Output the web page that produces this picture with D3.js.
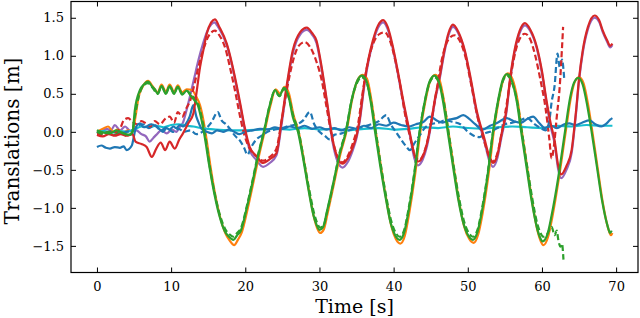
<!DOCTYPE html>
<html>
<head>
<meta charset="utf-8">
<script src="https://cdn.jsdelivr.net/npm/d3@7"></script>
<style>
  html, body { margin: 0; padding: 0; background: #fff; }
  #diagram { width: 640px; height: 318px; }
  text { font-family: "DejaVu Serif", serif; }
</style>
</head>
<body>
<div id="diagram"></div>
<script>
// - - - - - - - - - -
// data: [time (s), translation (m)]
const gtX = [[0,-0.02],[0.6,0.0],[1.3,0.04],[1.9,0.02],[2.4,0.09],[3.1,0.02],[3.8,0.07],[4.5,0.01],[5.3,0.02],[6,-0.03],[6.6,-0.06],[7.1,-0.13],[7.6,-0.08],[8,-0.04],[8.7,0.02],[9.4,-0.02],[10.1,0.03],[10.7,0.0],[11.2,0.07],[11.6,0.12],[11.9,0.22],[12.5,0.45],[13.1,0.7],[13.7,0.95],[14.3,1.16],[14.9,1.33],[15.4,1.41],[15.8,1.44],[16.4,1.37],[17.5,1.14],[18.2,0.88],[18.8,0.6],[19.4,0.3],[19.9,0.04],[20.6,-0.24],[21.5,-0.37],[22.4,-0.46],[23.3,-0.41],[24.2,-0.31],[24.9,0.1],[25.6,0.58],[26.4,1.03],[27.4,1.28],[28.3,1.34],[29,1.28],[29.6,1.17],[30.3,0.82],[31,0.38],[31.8,-0.15],[32.4,-0.38],[33.1,-0.47],[33.8,-0.4],[34.5,-0.24],[35,-0.08],[35.4,0.12],[36.1,0.64],[36.7,0.97],[37.2,1.17],[37.9,1.37],[38.6,1.44],[39.2,1.35],[39.9,1.09],[40.6,0.75],[41.3,0.38],[42.2,-0.05],[42.8,-0.35],[43.3,-0.44],[43.9,-0.37],[44.5,-0.19],[45.1,0.12],[45.6,0.42],[46.2,0.69],[46.8,1.02],[47.4,1.27],[48,1.38],[48.7,1.3],[49.6,1.05],[50.4,0.67],[51.2,0.25],[52.3,-0.15],[52.9,-0.38],[53.4,-0.46],[54,-0.34],[54.5,-0.09],[55.2,0.25],[55.7,0.67],[56.3,1.04],[57,1.3],[57.7,1.4],[58.4,1.33],[59.3,1.1],[60,0.77],[60.6,0.39],[61.2,0.06],[61.7,-0.15],[62.2,-0.5],[62.6,-0.61],[63.3,-0.5],[64,-0.28],[64.6,0.25],[65,0.67],[65.5,1.04],[66.2,1.35],[67.1,1.5],[67.7,1.45],[68.2,1.31],[68.8,1.18],[69.2,1.11],[69.5,1.14]];

const estX = [[0,-0.04],[0.8,-0.06],[1.6,-0.03],[2.4,-0.05],[3.2,-0.03],[4,-0.05],[4.8,-0.03],[5.2,-0.13],[6,-0.16],[6.7,-0.2],[7.4,-0.33],[8,-0.22],[8.6,-0.14],[9.2,-0.24],[9.8,-0.13],[10.5,-0.22],[11.1,-0.1],[11.6,-0.02],[12.3,0.11],[13,0.24],[13.4,0.5],[13.9,0.85],[14.4,1.1],[14.8,1.29],[15.4,1.44],[15.9,1.48],[16.5,1.38],[17.5,1.16],[18.2,0.9],[18.8,0.63],[19.4,0.33],[19.9,0.07],[20.6,-0.2],[21.5,-0.32],[22.4,-0.41],[23.3,-0.36],[24.2,-0.28],[24.9,0.15],[25.6,0.62],[26.4,1.07],[27.4,1.31],[28.3,1.37],[29,1.3],[29.6,1.2],[30.3,0.85],[31,0.41],[31.8,-0.11],[32.4,-0.33],[33.1,-0.42],[33.8,-0.35],[34.5,-0.2],[35,-0.05],[35.4,0.15],[36.1,0.68],[36.7,1.0],[37.2,1.2],[37.9,1.4],[38.6,1.47],[39.2,1.38],[39.9,1.12],[40.6,0.78],[41.3,0.41],[42.2,-0.02],[42.8,-0.3],[43.3,-0.39],[43.9,-0.33],[44.5,-0.15],[45.1,0.15],[45.6,0.45],[46.2,0.72],[46.8,1.05],[47.4,1.3],[48,1.41],[48.7,1.32],[49.6,1.07],[50.4,0.7],[51.2,0.28],[52.3,-0.11],[52.9,-0.33],[53.4,-0.41],[54,-0.3],[54.5,-0.05],[55.2,0.28],[55.7,0.7],[56.3,1.07],[57,1.33],[57.7,1.43],[58.4,1.35],[59.3,1.12],[60,0.8],[60.6,0.42],[61.2,0.1],[61.7,-0.11],[62.2,-0.45],[62.6,-0.56],[63.3,-0.45],[64,-0.24],[64.6,0.28],[65,0.7],[65.5,1.07],[66.2,1.38],[67.1,1.53],[67.7,1.47],[68.2,1.33],[68.8,1.2],[69.2,1.13],[69.5,1.16]];

const estX2 = [[0,-0.03],[0.8,-0.02],[1.6,0.0],[2.4,-0.01],[3.2,0.06],[3.6,0.15],[4.2,0.18],[4.8,0.13],[5.4,0.1],[6,0.14],[6.6,0.11],[7.2,0.07],[7.8,0.14],[8.5,0.1],[9.2,0.17],[9.8,0.2],[10.4,0.12],[10.9,0.26],[11.5,0.2],[12,0.3],[12.6,0.42],[13.2,0.65],[13.8,0.9],[14.4,1.1],[15,1.25],[15.9,1.33],[16.5,1.27],[17.3,1.1],[18,0.82],[18.7,0.5],[19.3,0.2],[19.9,-0.05],[20.6,-0.22],[21.5,-0.32],[22.4,-0.38],[23.3,-0.33],[24.2,-0.22],[24.9,0.15],[25.6,0.55],[26.4,0.92],[27.2,1.13],[28,1.18],[28.7,1.12],[29.5,0.95],[30.3,0.68],[31,0.3],[31.8,-0.12],[32.4,-0.32],[33.1,-0.4],[33.8,-0.32],[34.5,-0.15],[35.2,0.1],[35.8,0.5],[36.5,0.9],[37.2,1.15],[38,1.28],[38.8,1.31],[39.5,1.2],[40.2,0.95],[40.9,0.6],[41.6,0.2],[42.3,-0.1],[42.9,-0.32],[43.4,-0.37],[44,-0.3],[44.6,-0.1],[45.2,0.2],[45.8,0.55],[46.5,0.95],[47.3,1.2],[48.2,1.27],[48.9,1.2],[49.7,0.98],[50.5,0.6],[51.3,0.2],[52.2,-0.12],[52.9,-0.33],[53.4,-0.39],[54,-0.28],[54.6,0.0],[55.3,0.4],[56,0.85],[56.8,1.18],[57.7,1.29],[58.4,1.22],[59.1,1.0],[59.8,0.68],[60.5,0.3],[61,-0.1],[61.3,-0.35],[61.6,-0.2],[62,0.2],[62.4,0.6],[62.7,1.1],[62.85,1.38]];

const gtY = [[0,0.0],[0.8,0.04],[1.5,0.07],[2.2,0.0],[2.8,0.03],[3.5,-0.01],[4.2,0.02],[4.8,0.0],[5.2,0.2],[5.6,0.45],[6.2,0.6],[6.9,0.67],[7.5,0.6],[8.2,0.52],[8.7,0.62],[9.3,0.53],[9.8,0.62],[10.4,0.53],[10.9,0.61],[11.5,0.52],[12.1,0.56],[12.8,0.55],[13.4,0.46],[13.9,0.35],[14.3,0.18],[14.7,-0.05],[15.3,-0.45],[15.9,-0.8],[16.6,-1.12],[17.3,-1.33],[17.9,-1.43],[18.5,-1.49],[19,-1.42],[19.5,-1.33],[20.3,-1.02],[21.1,-0.66],[21.7,-0.38],[22.6,0.0],[23.4,0.35],[24.1,0.56],[24.7,0.5],[25.3,0.59],[25.9,0.5],[26.5,0.22],[27.2,0.0],[27.9,-0.37],[28.6,-0.78],[29.3,-1.14],[29.7,-1.27],[30.1,-1.33],[30.6,-1.28],[31.1,-1.07],[31.9,-0.71],[32.8,-0.3],[33.7,0.03],[34.4,0.42],[35.1,0.67],[35.8,0.75],[36.4,0.7],[37,0.42],[37.6,0.0],[38.3,-0.46],[39,-0.88],[39.7,-1.24],[40.3,-1.41],[40.9,-1.47],[41.5,-1.37],[42.1,-1.07],[42.9,-0.56],[43.6,0.0],[44.3,0.41],[44.9,0.66],[45.6,0.75],[46.2,0.68],[46.8,0.4],[47.4,0.0],[48.1,-0.46],[48.8,-0.9],[49.5,-1.24],[50.2,-1.41],[50.8,-1.46],[51.4,-1.35],[52,-1.07],[52.8,-0.56],[53.5,0.0],[54.2,0.43],[54.8,0.69],[55.4,0.77],[56,0.7],[56.7,0.42],[57.3,0.0],[58,-0.46],[58.7,-0.93],[59.4,-1.3],[59.8,-1.43],[60.2,-1.49],[60.8,-1.39],[61.4,-1.12],[62.3,-0.6],[63.2,0.0],[63.9,0.45],[64.4,0.65],[65,0.72],[65.6,0.64],[66.2,0.37],[66.8,0.0],[67.5,-0.47],[68.2,-0.93],[68.9,-1.26],[69.3,-1.36],[69.5,-1.33]];

const estY = [[0,0.02],[0.9,-0.01],[1.75,-0.02],[2.6,0.02],[3.5,-0.02],[4.4,-0.04],[4.8,0.0],[5.1,0.28],[5.8,0.55],[6.3,0.62],[6.9,0.66],[7.4,0.6],[7.8,0.56],[8.2,0.5],[8.7,0.6],[9.3,0.5],[9.8,0.6],[10.4,0.5],[10.9,0.59],[11.5,0.49],[12.1,0.54],[12.6,0.48],[13.1,0.42],[13.6,0.35],[14,0.2],[14.5,-0.05],[15.1,-0.42],[15.8,-0.8],[16.5,-1.1],[17.2,-1.3],[17.8,-1.38],[18.4,-1.42],[18.9,-1.36],[19.4,-1.3],[20.2,-1.0],[21,-0.65],[21.6,-0.37],[22.5,0.0],[23.3,0.35],[24,0.55],[24.6,0.47],[25.2,0.58],[25.8,0.48],[26.4,0.2],[27.1,0.0],[27.8,-0.35],[28.5,-0.75],[29.2,-1.1],[29.6,-1.22],[30,-1.29],[30.5,-1.25],[31,-1.05],[31.8,-0.7],[32.7,-0.3],[33.6,0.02],[34.3,0.4],[35,0.65],[35.7,0.74],[36.3,0.68],[36.9,0.4],[37.5,0.0],[38.2,-0.45],[38.9,-0.85],[39.6,-1.2],[40.2,-1.36],[40.8,-1.42],[41.4,-1.33],[42,-1.05],[42.8,-0.55],[43.5,0.0],[44.2,0.4],[44.8,0.65],[45.5,0.74],[46.1,0.66],[46.7,0.38],[47.3,0.0],[48,-0.45],[48.7,-0.88],[49.4,-1.2],[50.1,-1.37],[50.7,-1.42],[51.3,-1.32],[51.9,-1.05],[52.7,-0.55],[53.4,0.0],[54.1,0.42],[54.7,0.68],[55.3,0.76],[55.9,0.68],[56.6,0.4],[57.2,0.0],[57.9,-0.45],[58.6,-0.9],[59.3,-1.25],[59.7,-1.38],[60.1,-1.44],[60.7,-1.36],[61.3,-1.1],[62.2,-0.6],[63.1,0.0],[63.8,0.45],[64.3,0.64],[64.9,0.71],[65.5,0.62],[66.1,0.35],[66.7,0.0],[67.4,-0.45],[68.1,-0.9],[68.8,-1.22],[69.2,-1.33],[69.4,-1.3]];

const estY2 = [[0,0.0],[0.8,-0.03],[1.6,0.0],[2.4,-0.04],[3.2,0.0],[4,-0.05],[4.7,-0.02],[5.1,0.2],[5.6,0.45],[6.2,0.6],[6.9,0.64],[7.5,0.58],[8.2,0.5],[8.7,0.6],[9.3,0.51],[9.8,0.6],[10.4,0.51],[10.9,0.59],[11.5,0.5],[12.1,0.54],[12.6,0.5],[13.1,0.45],[13.6,0.38],[14.1,0.2],[14.6,-0.05],[15.2,-0.45],[15.9,-0.82],[16.6,-1.1],[17.3,-1.28],[17.9,-1.35],[18.4,-1.38],[18.9,-1.33],[19.4,-1.27],[20.2,-0.98],[21,-0.63],[21.6,-0.35],[22.5,0.0],[23.3,0.35],[24,0.54],[24.6,0.47],[25.2,0.56],[25.8,0.47],[26.5,0.2],[27.2,0.0],[27.9,-0.37],[28.6,-0.75],[29.3,-1.08],[29.7,-1.2],[30.1,-1.26],[30.6,-1.22],[31.1,-1.02],[31.9,-0.67],[32.7,-0.28],[33.6,0.03],[34.3,0.4],[35,0.63],[35.7,0.72],[36.3,0.66],[37,0.38],[37.6,0.0],[38.3,-0.45],[39,-0.85],[39.7,-1.18],[40.3,-1.33],[40.8,-1.38],[41.4,-1.3],[42,-1.02],[42.8,-0.53],[43.5,0.0],[44.2,0.4],[44.8,0.63],[45.5,0.72],[46.1,0.65],[46.8,0.38],[47.4,0.0],[48.1,-0.45],[48.8,-0.86],[49.5,-1.18],[50.2,-1.34],[50.7,-1.38],[51.3,-1.29],[51.9,-1.02],[52.7,-0.53],[53.4,0.0],[54.1,0.4],[54.7,0.66],[55.3,0.74],[55.9,0.66],[56.7,0.38],[57.3,0.0],[58,-0.45],[58.7,-0.88],[59.4,-1.22],[59.8,-1.33],[60.2,-1.38],[60.6,-1.36],[61.3,-1.25],[61.7,-1.36],[62,-1.3],[62.2,-1.42],[62.5,-1.51],[62.7,-1.47],[62.9,-1.68]];

const gtZ = [[0,0.0],[1,0.01],[2,-0.01],[3,0.01],[4,0.0],[5,0.03],[6,0.07],[7,0.06],[8,0.08],[9,0.06],[10,0.09],[11,0.1],[12,0.08],[13,0.07],[14,0.05],[15,0.04],[16,0.03],[18,0.02],[20,0.02],[22,0.03],[24,0.04],[26,0.03],[28,0.05],[30,0.03],[32,0.04],[34,0.02],[36,0.04],[38,0.05],[40,0.03],[42,0.04],[44,0.06],[46,0.05],[48,0.07],[50,0.05],[52,0.04],[54,0.06],[56,0.07],[58,0.06],[60,0.05],[62,0.08],[64,0.07],[66,0.09],[68,0.08],[69.5,0.08]];

const estZ = [[0,-0.2],[0.6,-0.18],[1.2,-0.21],[1.75,-0.22],[2.4,-0.2],[3.1,-0.21],[3.6,-0.19],[4,-0.24],[4.7,-0.18],[5,-0.05],[5.3,0.07],[5.8,0.11],[6.3,0.06],[6.7,0.07],[7.3,0.1],[8,0.07],[8.5,0.03],[8.9,0.0],[9.4,0.05],[9.8,0.03],[10.3,0.07],[10.7,0.05],[11.2,0.09],[11.6,0.07],[12.1,0.12],[12.5,0.2],[13,0.35],[13.4,0.2],[13.8,0.1],[14.1,0.04],[14.8,0.0],[15.5,-0.02],[16.2,0.02],[17,0.0],[17.8,0.03],[18.5,0.0],[19.2,-0.03],[20,0.0],[21,0.02],[22,0.04],[23,0.03],[24,0.06],[25,0.04],[26,0.07],[27,0.05],[28,0.08],[29,0.04],[30,0.06],[31,0.03],[32,0.05],[33,0.02],[34,0.06],[35,0.04],[36,0.08],[37,0.05],[38,0.1],[39,0.08],[40,0.12],[41,0.09],[42,0.07],[43,0.1],[44,0.13],[44.9,0.2],[45.8,0.15],[46.6,0.12],[47.5,0.16],[48.5,0.18],[49.4,0.22],[50.2,0.17],[51,0.1],[52,0.03],[53,0.08],[54,0.12],[55.2,0.18],[56.2,0.14],[57.2,0.12],[58,0.17],[58.8,0.2],[59.6,0.12],[60.4,0.05],[61.2,0.08],[62,0.05],[63,0.1],[63.7,0.11],[64.5,0.09],[65.4,0.12],[66.4,0.15],[67.2,0.1],[68,0.07],[68.6,0.1],[69.2,0.16],[69.5,0.18]];

const estZ2 = [[0,0.0],[1,-0.02],[2,0.01],[3,-0.02],[4,0.0],[5,0.03],[5.5,0.08],[6.2,0.1],[7,0.05],[7.8,0.09],[8.6,0.02],[9.4,0.06],[10.2,0.0],[11,0.04],[11.8,0.0],[12.6,0.02],[13.4,-0.03],[14.2,0.0],[14.8,0.05],[15.4,0.12],[16.3,0.26],[16.8,0.15],[17.4,0.1],[18,0.03],[18.6,-0.05],[19.3,-0.12],[19.8,-0.2],[20.3,-0.3],[20.8,-0.2],[21.5,-0.1],[22.2,-0.05],[23,0.0],[24,0.03],[25,0.05],[26,0.08],[27,0.1],[27.8,0.15],[28.7,0.26],[29.3,0.1],[30,0.0],[30.7,-0.05],[31.4,-0.1],[32,-0.04],[33,-0.02],[34,0.02],[35,0.05],[36,0.07],[37,0.1],[38,0.14],[39,0.22],[39.6,0.1],[40.3,0.0],[41,-0.1],[41.6,-0.18],[42.2,-0.24],[42.8,-0.15],[43.5,-0.05],[44.2,0.05],[45,0.1],[46,0.12],[47,0.15],[48,0.13],[49,0.1],[50,0.0],[50.8,-0.05],[51.6,-0.07],[52.3,-0.02],[53,0.0],[54,0.05],[55,0.1],[56,0.12],[57,0.15],[58,0.18],[59,0.1],[59.8,0.05],[60.5,0.02],[61,0.15],[61.3,0.39],[61.7,0.6],[62.1,1.03],[62.4,0.85],[62.7,0.95],[63,0.7]];

const xTicks = [0, 10, 20, 30, 40, 50, 60, 70];
const yTicks = [-1.5, -1.0, -0.5, 0.0, 0.5, 1.0, 1.5];
const xLabel = 'Time [s]';
const yLabel = 'Translations [m]';

!(function () {
  'use strict';
  // - - - - - - - - - -
  // declaration
  let
    svg = undefined,
    plot = undefined,
    x = undefined,
    y = undefined,
    line = undefined,

    setCanvas = undefined,
    setScales = undefined,
    setAxes = undefined,
    setLines = undefined;

  const canvas = {
    width: 640,
    height: 318,
    margin: { top: 1.5, right: 2, bottom: 45.5, left: 71 }
  };
  const innerW = canvas.width - canvas.margin.left - canvas.margin.right;
  const innerH = canvas.height - canvas.margin.top - canvas.margin.bottom;

  // series in drawing order
  const series = [
    { data: gtX, color: '#9467bd', dash: null },
    { data: gtY, color: '#ff7f0e', dash: null },
    { data: gtZ, color: '#17becf', dash: null },
    { data: estZ2, color: '#1f77b4', dash: '6,3' },
    { data: estX2, color: '#d62728', dash: '6,3' },
    { data: estY2, color: '#2ca02c', dash: '6,3' },
    { data: estZ, color: '#1f77b4', dash: null },
    { data: estX, color: '#d62728', dash: null },
    { data: estY, color: '#2ca02c', dash: null }
  ];

  // methods
  setCanvas = function (contextSelector) {
    svg = d3.select(contextSelector)
      .append('svg')
      .attr('width', canvas.width)
      .attr('height', canvas.height);

    plot = svg.append('g')
      .attr('transform', 'translate(' + canvas.margin.left + ',' + canvas.margin.top + ')');
  };

  setScales = function () {
    x = d3.scaleLinear().domain([-3.5, 72.95]).range([0, innerW]);
    y = d3.scaleLinear().domain([-1.85, 1.714]).range([innerH, 0]);

    line = d3.line()
      .x(function (d) { return x(d[0]); })
      .y(function (d) { return y(d[1]); })
      .curve(d3.curveMonotoneX);
  };

  setAxes = function () {
    const fmt = function (d) { return d3.format('.1f')(d).replace('-', '\u2212'); };

    const bottom = plot.append('g')
      .attr('transform', 'translate(0,' + innerH + ')')
      .call(d3.axisBottom(x).tickValues(xTicks).tickSizeInner(-5).tickSizeOuter(0).tickPadding(9));
    const left = plot.append('g')
      .call(d3.axisLeft(y).tickValues(yTicks).tickFormat(fmt).tickSizeInner(-5).tickSizeOuter(0).tickPadding(7));
    const top = plot.append('g')
      .call(d3.axisTop(x).tickValues(xTicks).tickSizeInner(-5).tickSizeOuter(0).tickFormat(''));
    const right = plot.append('g')
      .attr('transform', 'translate(' + innerW + ',0)')
      .call(d3.axisRight(y).tickValues(yTicks).tickSizeInner(-5).tickSizeOuter(0).tickFormat(''));

    [bottom, left, top, right].forEach(function (g) {
      g.select('.domain').remove();
      g.selectAll('.tick line').attr('stroke', '#000').attr('stroke-width', 1);
      g.selectAll('.tick text')
        .attr('fill', '#000')
        .style('font-family', '"DejaVu Serif", serif')
        .style('font-size', '13px');
    });

    // frame
    plot.append('rect')
      .attr('x', 0).attr('y', 0)
      .attr('width', innerW).attr('height', innerH)
      .attr('fill', 'none')
      .attr('stroke', '#000')
      .attr('stroke-width', 1.2);

    svg.append('text')
      .attr('x', canvas.margin.left + innerW / 2)
      .attr('y', 313)
      .attr('text-anchor', 'middle')
      .style('font-size', '19px')
      .text(xLabel);

    svg.append('text')
      .attr('transform', 'translate(19,141) rotate(-90)')
      .attr('text-anchor', 'middle')
      .style('font-size', '20px')
      .text(yLabel);
  };

  setLines = function () {
    plot.append('g')
      .selectAll('path')
      .data(series)
      .enter()
      .append('path')
      .attr('d', function (d) { return line(d.data); })
      .attr('fill', 'none')
      .attr('stroke', function (d) { return d.color; })
      .attr('stroke-width', 2.2)
      .attr('stroke-linejoin', 'round')
      .attr('stroke-dasharray', function (d) { return d.dash; });
  };

  // control
  setCanvas('#diagram');
  setScales();
  setLines();
  setAxes();
  // - - - - - - - - - -
}());
</script>
</body>
</html>
